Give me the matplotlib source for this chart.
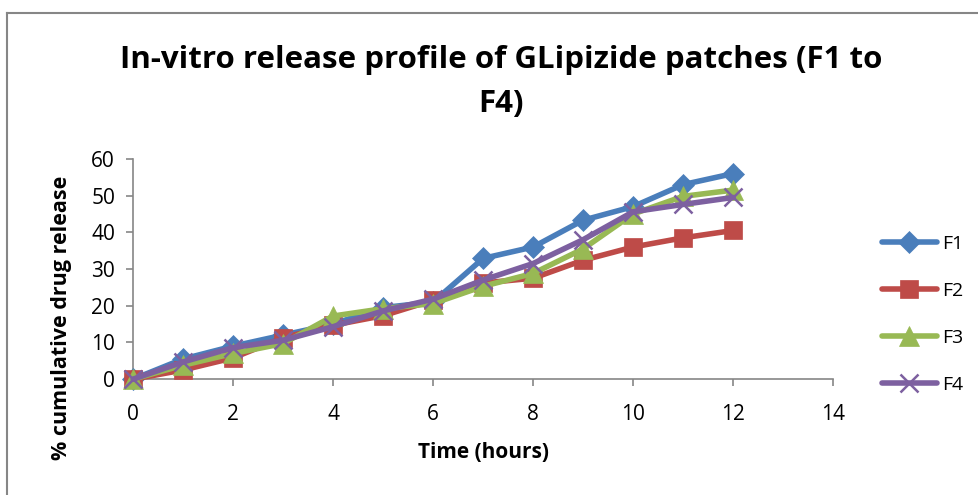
import matplotlib.pyplot as plt
from matplotlib.lines import Line2D
import numpy as np

# time points (hours) and cumulative release (%) per formulation
hours = np.arange(0, 13)
f1 = [0, 5.5, 9, 12, 15, 19.5, 21, 32.9, 36, 43.3, 47, 53, 56]
f2 = [0, 2.5, 5.8, 11.3, 14.7, 17.3, 21.5, 26.2, 27.5, 32.4, 36, 38.5, 40.5]
f3 = [0, 3.8, 7, 9.7, 17.2, 19.2, 20.6, 25.3, 28.8, 35.5, 45, 49.8, 51.5]
f4 = [0, 4.7, 8.6, 10.6, 14.3, 18.6, 21.8, 27, 31.5, 38, 45.6, 47.6, 49.5]
names = ['F1', 'F2', 'F3', 'F4']

plt.rcParams['font.family'] = ['Open Sans', 'DejaVu Sans']

fig = plt.figure(figsize=(9.79, 4.95), dpi=100)
ax = fig.add_axes([0.136, 0.234, 0.715, 0.445])

styles = [
    ('#4a7ebb', 'D', 11),
    ('#be4b48', 's', 13),
    ('#98b954', '^', 14),
    ('#7d60a0', 'x', 13),
]
for vals, name, (col, mk, ms) in zip([f1, f2, f3, f4], names, styles):
    ax.plot(hours, vals, color=col, lw=4, marker=mk, markersize=ms,
            markeredgewidth=1.8 if mk == 'x' else 0.5,
            markeredgecolor=col, label=name, solid_capstyle='round',
            clip_on=False, zorder=3)

ax.set_xlim(0, 14)
ax.set_ylim(0, 60)
ax.set_xticks(range(0, 15, 2))
ax.set_yticks(range(0, 61, 10))
for s in ['top', 'right']:
    ax.spines[s].set_visible(False)
for s in ['left', 'bottom']:
    ax.spines[s].set_color('#868686')
    ax.spines[s].set_linewidth(1.2)
ax.tick_params(colors='#868686', labelcolor='black', labelsize=15, length=5, width=1.2)
ax.tick_params(axis='x', pad=13)
ax.tick_params(axis='y', pad=8)
ax.set_xlabel('Time (hours)', fontsize=15, fontweight='bold', labelpad=12)
ax.set_ylabel('% cumulative drug release', fontsize=15.5, fontweight='bold')
ax.yaxis.set_label_coords(-0.087, 0.28)

fig.text(0.512, 0.835, 'In-vitro release profile of GLipizide patches (F1 to\nF4)',
         ha='center', va='center', fontsize=22.5, fontweight='bold', linespacing=1.6)

leg = ax.legend(loc='center left', bbox_to_anchor=(0.901, 0.3646),
                bbox_transform=fig.transFigure, frameon=False, borderpad=0,
                borderaxespad=0, fontsize=14, handlelength=2.8,
                labelspacing=1.5, handletextpad=0.3)

# frame along the top and left edges of the figure
fig.add_artist(Line2D([7 / 979, 1], [1 - 13 / 495] * 2, transform=fig.transFigure,
                      color='#868686', lw=1.5))
fig.add_artist(Line2D([7 / 979] * 2, [0, 1 - 13 / 495], transform=fig.transFigure,
                      color='#868686', lw=1.5))

fig.savefig('out.png', dpi=100)
